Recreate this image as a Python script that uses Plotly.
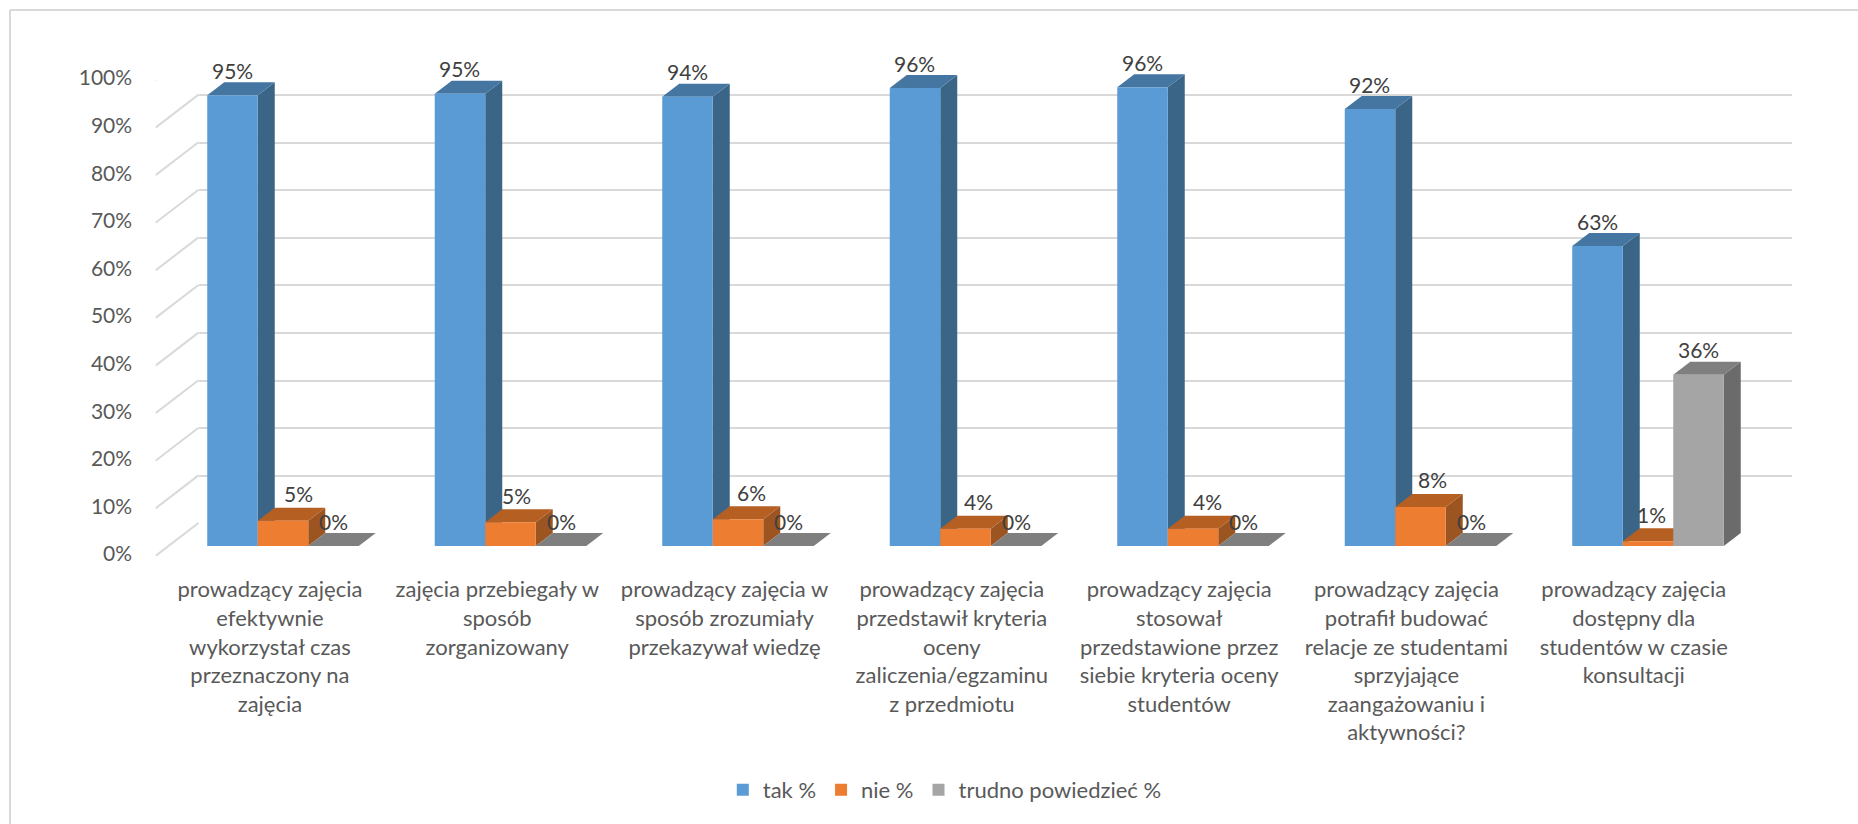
import plotly.graph_objects as go

categories = [
    "prowadzący zajęcia<br>efektywnie<br>wykorzystał czas<br>przeznaczony na<br>zajęcia",
    "zajęcia przebiegały w<br>sposób<br>zorganizowany",
    "prowadzący zajęcia w<br>sposób zrozumiały<br>przekazywał wiedzę",
    "prowadzący zajęcia<br>przedstawił kryteria<br>oceny<br>zaliczenia/egzaminu<br>z przedmiotu",
    "prowadzący zajęcia<br>stosował<br>przedstawione przez<br>siebie kryteria oceny<br>studentów",
    "prowadzący zajęcia<br>potrafił budować<br>relacje ze studentami<br>sprzyjające<br>zaangażowaniu i<br>aktywności?",
    "prowadzący zajęcia<br>dostępny dla<br>studentów w czasie<br>konsultacji",
]
tak = [94.7, 95.0, 94.4, 96.2, 96.4, 91.8, 63.0]
nie = [5.3, 5.0, 5.6, 3.6, 3.6, 8.2, 1.0]
trudno = [0, 0, 0, 0, 0, 0, 36.0]
series_names = ["tak %", "nie %", "trudno powiedzieć %"]
y_ticks = [0, 10, 20, 30, 40, 50, 60, 70, 80, 90, 100]
y_tick_labels = ["0%", "10%", "20%", "30%", "40%", "50%", "60%", "70%", "80%", "90%", "100%"]

series = [tak, nie, trudno]
front = ["#5B9BD5", "#ED7D31", "#A5A5A5"]
side = ["#3A6587", "#9C5420", "#6B6B6B"]
top = ["#4575A1", "#B55F22", "#7F7F7F"]

W, H = 1858, 824
TEXT = "#595959"
FONT = "Lato"
FS = 22
FS_SMALL = 21


def dx(a, b):
    return [a / W, b / W]


def dy(bottom, upper):
    return [1 - bottom / H, 1 - upper / H]


# Bar-plane scale: 227.5 px per category, 4.76 px per percent
BAR_W = 0.222
DEPTH_X = 17 / 227.5
DEPTH_Y = 13 / 4.76
WALL_X = 43 / 227.4
WALL_Y = 33 / 4.76
idx = list(range(len(categories)))

fig = go.Figure()

# Front plane carries the value and category labels
fig.add_trace(go.Scatter(x=[0], y=[0], mode="markers", xaxis="x", yaxis="y",
                         marker=dict(opacity=0), showlegend=False, hoverinfo="skip"))

# Back wall: native grid lines
fig.add_trace(go.Scatter(x=[0], y=[0], mode="markers", xaxis="x2", yaxis="y2",
                         marker=dict(opacity=0), showlegend=False, hoverinfo="skip"))

# Floor/side-wall diagonals, from the front plane to the back wall
diag_x, diag_y = [], []
for v in y_ticks:
    diag_x += [-0.5, -0.5 + WALL_X, None]
    diag_y += [v, v + WALL_Y, None]
fig.add_trace(go.Scatter(x=diag_x, y=diag_y, mode="lines", xaxis="x5", yaxis="y5",
                         line=dict(color="#D9D9D9", width=2), cliponaxis=False,
                         showlegend=False, hoverinfo="skip"))

# Side and top faces, painted left to right under the front faces
for i in idx:
    for s, vals in enumerate(series):
        c = i + (s - 1) * BAR_W
        l, r = c - BAR_W / 2, c + BAR_W / 2
        v = vals[i]
        if v > 0:
            fig.add_trace(go.Scatter(
                x=[r, r + DEPTH_X, r + DEPTH_X, r, r],
                y=[0, DEPTH_Y, v + DEPTH_Y, v, 0],
                mode="lines", fill="toself", fillcolor=side[s], line=dict(width=0),
                xaxis="x3", yaxis="y3", cliponaxis=False,
                showlegend=False, hoverinfo="skip"))
        fig.add_trace(go.Scatter(
            x=[l, r, r + DEPTH_X, l + DEPTH_X, l],
            y=[v, v, v + DEPTH_Y, v + DEPTH_Y, v],
            mode="lines", fill="toself", fillcolor=top[s], line=dict(width=0),
            xaxis="x3", yaxis="y3", cliponaxis=False,
            showlegend=False, hoverinfo="skip"))

# Front faces
for s, vals in enumerate(series):
    fig.add_trace(go.Bar(x=idx, y=vals, name=series_names[s], xaxis="x4", yaxis="y4",
                         marker=dict(color=front[s], line=dict(width=0)),
                         offsetgroup=str(s), cliponaxis=False))

# Data labels
label_xshift = [
    [0, 0, 0, 0, 0, 0, 0],
    [15, 6, 13, 13, 14, 12, 3],
    [0, 0, 0, 0, 0, 0, 0],
]
label_yshift = [25, 27, 25]
annotations = []
for s, vals in enumerate(series):
    for i in idx:
        annotations.append(dict(
            x=i + (s - 1) * BAR_W, y=vals[i], xref="x4", yref="y4",
            text=f"{round(vals[i])}%", showarrow=False, xanchor="center", yanchor="middle",
            xshift=label_xshift[s][i], yshift=label_yshift[s],
            font=dict(family=FONT, size=FS_SMALL, color="#404040")))

frame_line = dict(color="#D9D9D9", width=2)
fig.update_layout(
    width=W, height=H, margin=dict(l=0, r=0, t=0, b=0, pad=0, autoexpand=False),
    paper_bgcolor="white", plot_bgcolor="rgba(0,0,0,0)",
    font=dict(family=FONT, size=FS, color=TEXT),
    barmode="group", bargap=0.334, bargroupgap=0,
    showlegend=True,
    legend=dict(orientation="h", x=0.5085, xanchor="center", y=1 - 790 / H, yanchor="middle",
                font=dict(family=FONT, size=FS, color=TEXT), itemwidth=30,
                traceorder="normal", bgcolor="rgba(0,0,0,0)"),
    annotations=annotations,
    shapes=[
        dict(type="line", xref="paper", yref="paper", x0=10 / W, x1=1, y0=1 - 10 / H, y1=1 - 10 / H, line=frame_line),
        dict(type="line", xref="paper", yref="paper", x0=10 / W, x1=10 / W, y0=0, y1=1 - 10 / H, line=frame_line),
    ],
    xaxis=dict(domain=dx(156.3, 1747.4), range=[-0.5, 6.5], anchor="y", tickmode="array",
               tickvals=idx, ticktext=categories, showgrid=False, zeroline=False, showline=False,
               ticks="outside", ticklen=16, tickcolor="rgba(0,0,0,0)", tickangle=0,
               tickfont=dict(family=FONT, size=FS, color=TEXT)),
    yaxis=dict(domain=dy(554, 78), range=[0, 100], anchor="x", tickmode="array", tickvals=y_ticks,
               ticktext=y_tick_labels, showgrid=False, zeroline=False, showline=False,
               ticks="outside", ticklen=19, tickcolor="rgba(0,0,0,0)",
               tickfont=dict(family=FONT, size=FS_SMALL, color=TEXT)),
    xaxis2=dict(domain=dx(199, 1792), range=[-0.5, 6.5], anchor="y2", visible=False),
    yaxis2=dict(domain=dy(523.3, 47.3), range=[0, 100], anchor="x2", dtick=10, showgrid=True,
                gridcolor="#D9D9D9", gridwidth=2, zeroline=False, showline=False,
                showticklabels=False, ticks=""),
    xaxis3=dict(domain=dx(169.25, 1761.75), range=[-0.5, 6.5], anchor="y3", visible=False),
    yaxis3=dict(domain=dy(546, 22.4), range=[0, 110], anchor="x3", visible=False),
    xaxis4=dict(domain=dx(169.25, 1761.75), range=[-0.5, 6.5], anchor="y4", visible=False, overlaying="x3"),
    yaxis4=dict(domain=dy(546, 22.4), range=[0, 110], anchor="x4", visible=False, overlaying="y3"),
    xaxis5=dict(domain=dx(155.5, 1746.6), range=[-0.5, 6.5], anchor="y5", visible=False),
    yaxis5=dict(domain=dy(556, 80), range=[0, 100], anchor="x5", visible=False),
)

fig.write_html("out.html", config={"displayModeBar": False},
               post_script="document.body.style.margin='0';document.body.style.overflow='hidden';")
